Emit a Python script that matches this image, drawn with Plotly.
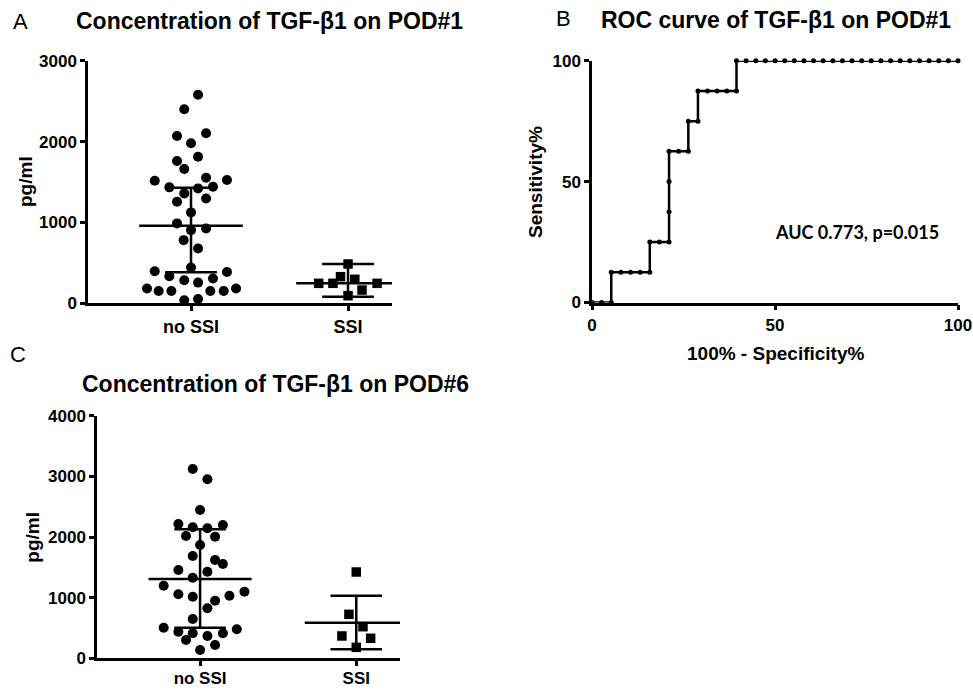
import plotly.graph_objects as go

# ---------------- data ----------------
categories = ["no SSI", "SSI"]

# Panel A: TGF-b1 on POD#1 (pg/ml)
a_noSSI = [2578, 2400, 2069, 2103, 1979, 1760, 1813, 1660, 1516, 1553, 1524, 1434, 1421,
           1441, 1359, 1255, 1297, 1124, 988, 905, 926, 781, 678, 442, 397, 335, 388, 306,
           285, 256, 182, 152, 152, 152, 152, 182, 37, 53]
a_noSSI_off = [0.045, -0.043, -0.089, 0.096, 0.0, -0.089, 0.045, -0.043, -0.231, 0.096, 0.229,
               -0.138, 0.045, 0.140, -0.043, -0.089, 0.096, 0.0, -0.089, 0.0, 0.096, -0.047,
               0.045, 0.0, -0.231, -0.138, 0.229, 0.140, -0.043, 0.045, -0.280, -0.206,
               -0.125, 0.123, 0.208, 0.287, -0.043, 0.045]
a_SSI = [486, 247, 247, 329, 297, 247, 164, 94]
a_SSI_off = [0.0, -0.187, -0.096, -0.048, 0.043, 0.185, 0.089, 0.0]
# median with interquartile range: [center, low, high]
a_noSSI_bar = [960, 383, 1430]
a_SSI_bar = [247, 82, 486]

# Panel C: TGF-b1 on POD#6 (pg/ml)
c_noSSI = [3121, 2951, 2445, 2214, 2198, 2160, 2143, 2016, 2005, 1868, 1687, 1621, 1555,
           1456, 1428, 1329, 1197, 1098, 1055, 1016, 1032, 950, 824, 648, 505, 439, 412,
           368, 412, 478, 302, 219, 137]
c_noSSI_off = [-0.047, 0.047, 0.0, -0.139, 0.146, -0.047, 0.047, -0.090, 0.096, 0.0, -0.047,
               0.096, 0.146, -0.139, 0.047, -0.047, -0.233, 0.284, -0.139, -0.047, 0.188,
               0.096, 0.047, -0.047, -0.233, -0.139, -0.047, 0.047, 0.146, 0.235, -0.090,
               0.096, 0.0]
c_SSI = [1423, 725, 521, 368, 330, 181]
c_SSI_off = [0.0, -0.047, 0.043, -0.092, 0.092, 0.0]
c_noSSI_bar = [1308, 505, 2127]
c_SSI_bar = [587, 148, 1032]

# Panel B: ROC curve (100% - specificity, sensitivity); 38 controls, 8 cases
n_ctrl = 38
roc_ctrl_idx = [0, 1, 2, 2, 3, 4, 5, 6, 6, 7, 8, 8, 8, 8, 9, 10, 10, 11, 11, 12, 13, 14, 15,
                15, 16, 17, 18, 19, 20, 21, 22, 23, 24, 25, 26, 27, 28, 29, 30, 31, 32, 33,
                34, 35, 36, 37, 38]
roc_sens = [0, 0, 0, 12.5, 12.5, 12.5, 12.5, 12.5, 25, 25, 25, 37.5, 50, 62.5, 62.5, 62.5,
            75, 75, 87.5, 87.5, 87.5, 87.5, 87.5, 100, 100, 100, 100, 100, 100, 100, 100,
            100, 100, 100, 100, 100, 100, 100, 100, 100, 100, 100, 100, 100, 100, 100, 100]
roc_fpr = [100.0 * k / n_ctrl for k in roc_ctrl_idx]
auc_text = "AUC 0.773, p=0.015"

# ---------------- figure ----------------
W, H = 973, 690
def fx(p):
    return p / W
def fy(p):
    return 1 - p / H

BLACK = "#000000"
FONT = "Liberation Sans, Arial, sans-serif"
LW = 2.5

fig = go.Figure()

def add_points(xc, vals, offs, symbol, size, xa, ya):
    fig.add_trace(go.Scatter(
        x=[xc + o for o in offs], y=vals, mode="markers",
        marker=dict(symbol=symbol, size=size, color=BLACK, line=dict(width=0)),
        xaxis=xa, yaxis=ya, cliponaxis=False, showlegend=False, hoverinfo="y"))

def add_bar(xc, bar, xa, ya, half_mean=0.33, half_cap=0.165):
    m, lo, hi = bar
    xs = [xc - half_mean, xc + half_mean, None,
          xc - half_cap, xc + half_cap, None,
          xc - half_cap, xc + half_cap, None,
          xc, xc]
    ys = [m, m, None, lo, lo, None, hi, hi, None, lo, hi]
    fig.add_trace(go.Scatter(x=xs, y=ys, mode="lines",
                             line=dict(color=BLACK, width=LW),
                             xaxis=xa, yaxis=ya, cliponaxis=False,
                             showlegend=False, hoverinfo="skip"))

# Panel A
add_points(0, a_noSSI, a_noSSI_off, "circle", 10, "x", "y")
add_points(1, a_SSI, a_SSI_off, "square", 9.5, "x", "y")
add_bar(0, a_noSSI_bar, "x", "y")
add_bar(1, a_SSI_bar, "x", "y")

# Panel B
fig.add_trace(go.Scatter(x=roc_fpr, y=roc_sens, mode="lines+markers",
                         line=dict(color=BLACK, width=LW),
                         marker=dict(size=5, color=BLACK),
                         xaxis="x2", yaxis="y2", cliponaxis=False,
                         showlegend=False))

# Panel C
add_points(0, c_noSSI, c_noSSI_off, "circle", 10, "x3", "y3")
add_points(1, c_SSI, c_SSI_off, "square", 9.5, "x3", "y3")
add_bar(0, c_noSSI_bar, "x3", "y3")
add_bar(1, c_SSI_bar, "x3", "y3")

tickfont = dict(family=FONT, size=17, color=BLACK, weight="bold")
catfont = dict(family=FONT, size=18, color=BLACK, weight="bold")
catfont_c = dict(family=FONT, size=17, color=BLACK, weight="bold")

def xaxis_common(font):
    return dict(showline=True, linecolor=BLACK, linewidth=LW, ticks="outside",
                ticklen=5, tickwidth=LW, tickcolor=BLACK, showgrid=False,
                zeroline=False, tickfont=font, fixedrange=True, automargin=False)

fig.update_layout(
    width=W, height=H, margin=dict(l=0, r=0, t=0, b=0, autoexpand=False),
    paper_bgcolor="white", plot_bgcolor="white",
    xaxis=dict(domain=[fx(88), fx(392)], range=[-0.656, 1.28], tickvals=[0, 1],
               ticktext=categories, anchor="y", **xaxis_common(catfont)),
    yaxis=dict(domain=[fy(303.3), fy(60.7)], range=[0, 3000],
               tickvals=[0, 1000, 2000, 3000], anchor="x", **xaxis_common(tickfont)),
    xaxis2=dict(domain=[fx(592), fx(958)], range=[0, 100], tickvals=[0, 50, 100],
                anchor="y2", **xaxis_common(tickfont)),
    yaxis2=dict(domain=[fy(302.5), fy(60.7)], range=[0, 100], tickvals=[0, 50, 100],
                anchor="x2", **xaxis_common(tickfont)),
    xaxis3=dict(domain=[fx(97), fx(400)], range=[-0.66, 1.28], tickvals=[0, 1],
                ticktext=categories, anchor="y3", ticklabelstandoff=-2,
                **xaxis_common(catfont_c)),
    yaxis3=dict(domain=[fy(658.3), fy(415.7)], range=[0, 4000],
                tickvals=[0, 1000, 2000, 3000, 4000], anchor="x3", **xaxis_common(tickfont)),
)

def ann(text, x, y, size, bold=True, angle=0, family=FONT):
    fig.add_annotation(text=text, x=fx(x), y=fy(y), xref="paper", yref="paper",
                       showarrow=False, textangle=angle, xanchor="center", yanchor="middle",
                       font=dict(family=family, size=size, color=BLACK,
                                 weight="bold" if bold else "normal"))

ann("A", 20, 21, 22, bold=False)
ann("Concentration of TGF-β1 on POD#1", 269, 21, 23)
ann("B", 563, 19, 22, bold=False)
ann("ROC curve of TGF-β1 on POD#1", 776, 20, 23)
ann("C", 18, 355, 22, bold=False)
ann("Concentration of TGF-β1 on POD#6", 275, 384, 23)
ann("pg/ml", 25, 182, 19, angle=-90)
ann("pg/ml", 31.7, 537, 19, angle=-90)
ann("Sensitivity%", 535, 182, 19, angle=-90)
ann("100% - Specificity%", 776, 353, 19)
ann(auc_text, 857, 232, 18, family="Lato, Carlito, sans-serif")

fig.write_html("out.html", config={"displayModeBar": False},
               post_script="document.body.style.margin='0';"
                           "document.body.style.padding='0';"
                           "document.body.style.overflow='hidden';")
